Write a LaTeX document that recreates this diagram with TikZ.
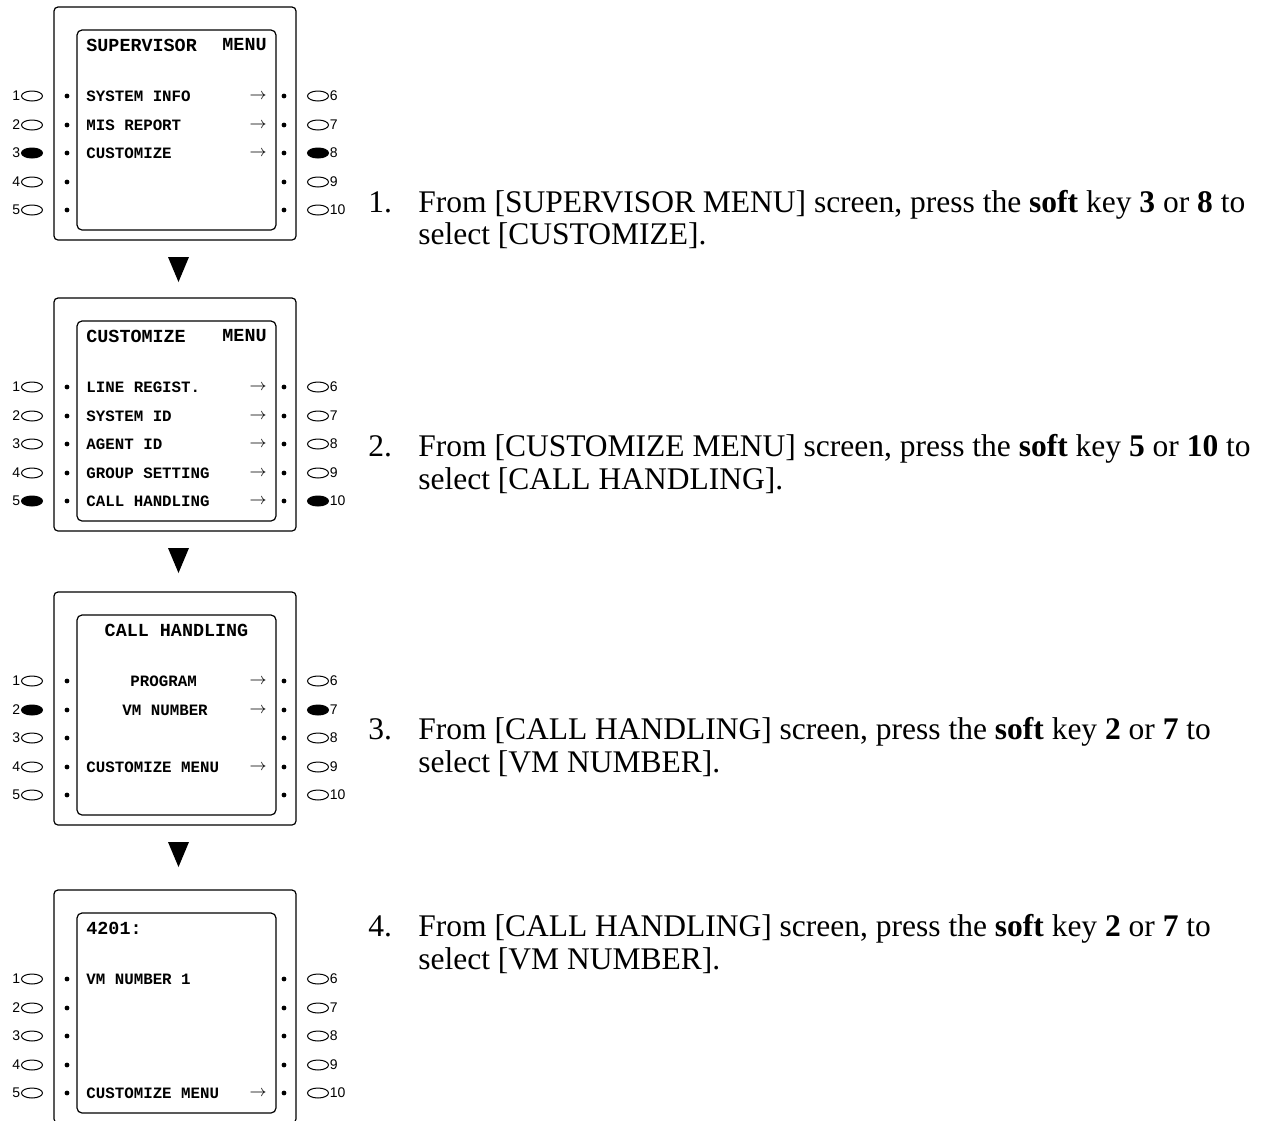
\documentclass[tikz,border=0pt]{standalone}
\usepackage{fontspec}
\setmainfont{Liberation Serif}
\newfontfamily\lcdfont{Liberation Mono}
\newfontfamily\keyfont{Liberation Sans}
\usetikzlibrary{shapes.geometric,positioning}

\tikzset{
  casebox/.style={draw,rounded corners=2pt,line width=0.6pt,minimum width=121pt,minimum height=116.5pt,inner sep=0pt},
  lcdbox/.style={draw,rounded corners=2.5pt,line width=0.6pt,minimum width=99.5pt,minimum height=100pt,inner sep=0pt},
  softkey/.style={draw,ellipse,line width=0.5pt,minimum width=10.5pt,minimum height=5pt,inner sep=0pt},
  softkeyon/.style={softkey,fill=black},
  keynum/.style={font=\keyfont\fontsize{7}{7}\selectfont,inner sep=0pt},
  leddot/.style={circle,fill=black,minimum size=2.4pt,inner sep=0pt},
  lcdtitle/.style={font=\lcdfont\bfseries\fontsize{9.2}{9.2}\selectfont,inner sep=0pt},
  lcditem/.style={font=\lcdfont\bfseries\fontsize{7.9}{7.9}\selectfont,inner sep=0pt,anchor=west},
  lcdarrow/.style={font=\fontsize{8}{8}\selectfont,inner sep=0pt,anchor=east},
  steptext/.style={font=\fontsize{15.75}{16.2}\selectfont,inner sep=0pt,anchor=west}
}

% soft keys, leds and key numbers of one panel: #1 tag, #2 top, #3 lit row
\newcommand{\softkeys}[3]{%
  \foreach \r/\dy in {1/88,2/117,3/145,4/174,5/202}{
    \pgfmathtruncatemacro\rr{\r+5}
    \ifnum\r=#3 \def\kst{softkeyon}\else\def\kst{softkey}\fi
    \node[\kst] (#1l\r) at (32,#2+\dy) {};
    \node[keynum,anchor=east] (#1ln\r) at (20.5,#2+\dy) {\r};
    \node[leddot] (#1ld\r) at (67,#2+\dy) {};
    \node[\kst] (#1r\r) at (318,#2+\dy) {};
    \node[keynum,anchor=west] (#1rn\r) at (329.5,#2+\dy) {\rr};
    \node[leddot] (#1rd\r) at (284,#2+\dy) {};
  }}

\newcommand{\stepcell}[3]{%
  \renewcommand\arraystretch{1}%
  \begin{tabular}{@{}p{25pt}@{}l@{}}#1 & #2\\ & #3\end{tabular}}

\begin{document}
\begin{tikzpicture}[x=0.5pt,y=-0.5pt]
  \useasboundingbox (0,0) rectangle (1264,1120);

  % panel 1
  \node[casebox] (case1) at (175,8+115.5) {};
  \node[lcdbox] (lcd1) at (176.5,8+122) {};
  \softkeys{a}{8}{3}
  \node[lcdtitle,anchor=west] (t1a) at (86,8+37) {SUPERVISOR};
  \node[lcdtitle,anchor=east] (t1b) at (267,8+37) {MENU};
  \node[lcditem] (i1a) at (86,8+88) {SYSTEM INFO};
  \node[lcditem] (i1b) at (86,8+117) {MIS REPORT};
  \node[lcditem] (i1c) at (86,8+145) {CUSTOMIZE};
  \foreach \dy in {88,117,145} \node[lcdarrow] (a1\dy) at (267,8+\dy) {$\rightarrow$};
  \fill (168,8+249) -- (189,8+249) -- (178.5,8+274) -- cycle;

  % panel 2
  \node[casebox] (case2) at (175,299+115.5) {};
  \node[lcdbox] (lcd2) at (176.5,299+122) {};
  \softkeys{b}{299}{5}
  \node[lcdtitle,anchor=west] (t2a) at (86,299+37) {CUSTOMIZE};
  \node[lcdtitle,anchor=east] (t2b) at (267,299+37) {MENU};
  \node[lcditem] (i2a) at (86,299+88) {LINE REGIST.};
  \node[lcditem] (i2b) at (86,299+117) {SYSTEM ID};
  \node[lcditem] (i2c) at (86,299+145) {AGENT ID};
  \node[lcditem] (i2d) at (86,299+174) {GROUP SETTING};
  \node[lcditem] (i2e) at (86,299+202) {CALL HANDLING};
  \foreach \dy in {88,117,145,174,202} \node[lcdarrow] (a2\dy) at (267,299+\dy) {$\rightarrow$};
  \fill (168,299+249) -- (189,299+249) -- (178.5,299+274) -- cycle;

  % panel 3
  \node[casebox] (case3) at (175,593+115.5) {};
  \node[lcdbox] (lcd3) at (176.5,593+122) {};
  \softkeys{c}{593}{2}
  \node[lcdtitle] (t3a) at (176.5,593+37) {CALL HANDLING};
  \node[lcditem] (i3a) at (130,593+88) {PROGRAM};
  \node[lcditem] (i3b) at (122,593+117) {VM NUMBER};
  \node[lcditem] (i3c) at (86,593+174) {CUSTOMIZE MENU};
  \foreach \dy in {88,117,174} \node[lcdarrow] (a3\dy) at (267,593+\dy) {$\rightarrow$};
  \fill (168,593+249) -- (189,593+249) -- (178.5,593+274) -- cycle;

  % panel 4
  \node[casebox] (case4) at (175,891+115.5) {};
  \node[lcdbox] (lcd4) at (176.5,891+122) {};
  \softkeys{d}{891}{0}
  \node[lcdtitle,anchor=west] (t4a) at (86,891+37) {4201:};
  \node[lcditem] (i4a) at (86,891+88) {VM NUMBER 1};
  \node[lcditem] (i4b) at (86,891+202) {CUSTOMIZE MENU};
  \node[lcdarrow] (a4) at (267,891+202) {$\rightarrow$};

  % steps
  \node[steptext] (step1) at (368,222) {\stepcell{1.}{From [SUPERVISOR MENU] screen, press the \textbf{soft} key \textbf{3} or \textbf{8} to}{select [CUSTOMIZE].}};
  \node[steptext] (step2) at (368,466.5) {\stepcell{2.}{From [CUSTOMIZE MENU] screen, press the \textbf{soft} key \textbf{5} or \textbf{10} to}{select [CALL HANDLING].}};
  \node[steptext] (step3) at (368,749.5) {\stepcell{3.}{From [CALL HANDLING] screen, press the \textbf{soft} key \textbf{2} or \textbf{7} to}{select [VM NUMBER].}};
  \node[steptext] (step4) at (368,946.5) {\stepcell{4.}{From [CALL HANDLING] screen, press the \textbf{soft} key \textbf{2} or \textbf{7} to}{select [VM NUMBER].}};
\end{tikzpicture}
\end{document}
